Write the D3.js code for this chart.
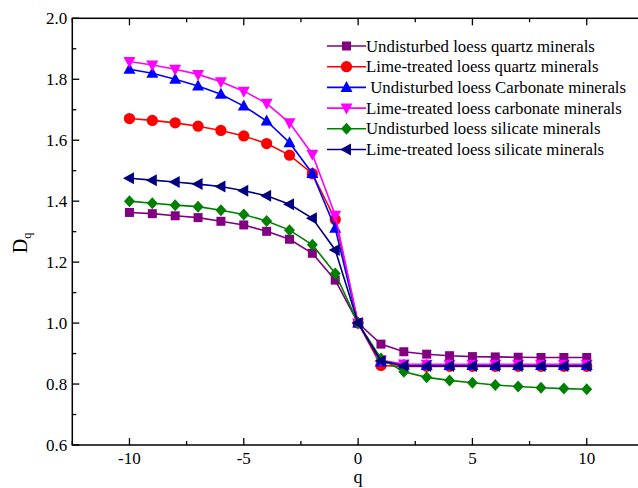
<!DOCTYPE html>
<html>
<head>
<meta charset="utf-8">
<script src="https://cdn.jsdelivr.net/npm/d3@7"></script>
<style>
  body { margin: 0; background: #fff; }
  svg { display: block; font-family: "Liberation Serif", "Times New Roman", serif; }
</style>
</head>
<body>
<div id="chart"></div>
<script>
// q values along the x axis
const qValues = [-10, -9, -8, -7, -6, -5, -4, -3, -2, -1, 0, 1, 2, 3, 4, 5, 6, 7, 8, 9, 10];

// D_q for each sample
const undisturbedQuartz   = [1.363, 1.359, 1.352, 1.346, 1.334, 1.322, 1.301, 1.275, 1.229, 1.141, 1.0, 0.931, 0.906, 0.898, 0.893, 0.890, 0.889, 0.888, 0.887, 0.887, 0.887];
const limeQuartz          = [1.671, 1.665, 1.657, 1.646, 1.632, 1.614, 1.589, 1.551, 1.490, 1.340, 1.0, 0.861, 0.858, 0.858, 0.858, 0.858, 0.858, 0.858, 0.858, 0.858, 0.858];
const undisturbedCarbon   = [1.833, 1.820, 1.800, 1.778, 1.751, 1.712, 1.663, 1.592, 1.491, 1.311, 1.0, 0.872, 0.862, 0.861, 0.861, 0.861, 0.861, 0.861, 0.861, 0.861, 0.861];
const limeCarbon          = [1.858, 1.847, 1.833, 1.816, 1.792, 1.761, 1.721, 1.657, 1.554, 1.354, 1.0, 0.878, 0.866, 0.865, 0.865, 0.865, 0.865, 0.865, 0.865, 0.865, 0.865];
const undisturbedSilicate = [1.400, 1.393, 1.387, 1.382, 1.370, 1.356, 1.335, 1.305, 1.257, 1.163, 1.0, 0.884, 0.840, 0.822, 0.812, 0.804, 0.797, 0.792, 0.788, 0.785, 0.783];
const limeSilicate        = [1.475, 1.469, 1.463, 1.456, 1.448, 1.434, 1.418, 1.390, 1.344, 1.240, 1.0, 0.876, 0.860, 0.859, 0.859, 0.859, 0.859, 0.859, 0.859, 0.859, 0.859];

const seriesNames = [
    "Undisturbed loess quartz minerals",
    "Lime-treated loess quartz minerals",
    " Undisturbed loess Carbonate minerals",
    "Lime-treated loess carbonate minerals",
    "Undisturbed loess silicate minerals",
    "Lime-treated loess silicate minerals"
];
const seriesValues = [undisturbedQuartz, limeQuartz, undisturbedCarbon, limeCarbon, undisturbedSilicate, limeSilicate];
const seriesColors = ["#800080", "#ff0000", "#0000ff", "#ff00ff", "#008000", "#000080"];
const seriesMarkers = ["square", "circle", "up", "down", "diamond", "left"];

const xTicks = [-10, -5, 0, 5, 10];
const yTicks = [0.6, 0.8, 1.0, 1.2, 1.4, 1.6, 1.8, 2.0];

const width = 638, height = 488;
const plotLeft = 72.3, plotTop = 18.3, plotBottom = 445;

const svg = d3.select("#chart").append("svg")
    .attr("width", width)
    .attr("height", height);

const x = d3.scaleLinear().domain([-12.5, 12.5]).range([plotLeft, 643.9]);
const y = d3.scaleLinear().domain([0.6, 2.0]).range([plotBottom, plotTop]);

// frame
svg.append("rect")
    .attr("x", plotLeft).attr("y", plotTop)
    .attr("width", x(12.5) - plotLeft).attr("height", plotBottom - plotTop)
    .attr("fill", "none").attr("stroke", "#000").attr("stroke-width", 1.5);

// ticks (inward) on all four sides
const xMinor = d3.range(-12.5, 12.6, 2.5).filter(v => v % 5 !== 0);
const yMinor = d3.range(0.7, 2.0, 0.2);

function tickLines(sel, data, x1, y1, x2, y2) {
    sel.selectAll(null).data(data).enter().append("line")
        .attr("x1", x1).attr("y1", y1).attr("x2", x2).attr("y2", y2)
        .attr("stroke", "#000").attr("stroke-width", 1.3);
}
const ticks = svg.append("g");
tickLines(ticks, xTicks, d => x(d), plotBottom, d => x(d), plotBottom - 7);
tickLines(ticks, xMinor, d => x(d), plotBottom, d => x(d), plotBottom - 4);
tickLines(ticks, xTicks, d => x(d), plotTop, d => x(d), plotTop + 7);
tickLines(ticks, xMinor, d => x(d), plotTop, d => x(d), plotTop + 4);
tickLines(ticks, yTicks, plotLeft, d => y(d), plotLeft + 7, d => y(d));
tickLines(ticks, yMinor, plotLeft, d => y(d), plotLeft + 4, d => y(d));

svg.append("g").selectAll("text").data(xTicks).enter().append("text")
    .attr("x", d => x(d)).attr("y", plotBottom + 19)
    .attr("text-anchor", "middle")
    .attr("font-size", 17)
    .text(d => String(d));

svg.append("g").selectAll("text").data(yTicks).enter().append("text")
    .attr("x", plotLeft - 5).attr("y", d => y(d) + 6)
    .attr("text-anchor", "end")
    .attr("font-size", 17)
    .text(d => d3.format(".1f")(d));

// axis titles
svg.append("text")
    .attr("x", x(0)).attr("y", 483)
    .attr("text-anchor", "middle")
    .attr("font-size", 18)
    .text("q");

const yTitle = svg.append("text")
    .attr("transform", "translate(27," + 243 + ") rotate(-90)")
    .attr("text-anchor", "middle")
    .attr("font-size", 20);
yTitle.append("tspan").text("D");
yTitle.append("tspan").attr("font-size", 12).attr("dy", 4).text("q");

// marker shapes
function markerPath(type) {
    switch (type) {
        case "square":  return "M-4.5,-4.5H4.5V4.5H-4.5Z";
        case "circle":  return d3.symbol(d3.symbolCircle, 100)();
        case "up":      return "M0,-6.5L6,4.5H-6Z";
        case "down":    return "M0,6.5L6,-4.5H-6Z";
        case "diamond": return "M0,-6L5.5,0L0,6L-5.5,0Z";
        case "left":    return "M-6.5,0L4.5,-6V6Z";
    }
}

const line = d3.line()
    .x((d, i) => x(qValues[i]))
    .y(d => y(d));

const plot = svg.append("g");
seriesValues.forEach(function (vals, s) {
    plot.append("path")
        .attr("d", line(vals))
        .attr("fill", "none")
        .attr("stroke", seriesColors[s])
        .attr("stroke-width", 1.6);
    plot.selectAll(null).data(vals).enter().append("path")
        .attr("d", markerPath(seriesMarkers[s]))
        .attr("transform", (d, i) => "translate(" + x(qValues[i]) + "," + y(d) + ")")
        .attr("fill", seriesColors[s]);
});

// legend
const legend = svg.append("g");
seriesNames.forEach(function (name, s) {
    const ly = 46 + s * 20.7;
    legend.append("line")
        .attr("x1", 327).attr("x2", 366).attr("y1", ly).attr("y2", ly)
        .attr("stroke", seriesColors[s]).attr("stroke-width", 1.6);
    legend.append("path")
        .attr("d", markerPath(seriesMarkers[s]))
        .attr("transform", "translate(346.5," + ly + ")")
        .attr("fill", seriesColors[s]);
    legend.append("text")
        .attr("x", 366).attr("y", ly + 5.5)
        .attr("font-size", 16.8)
        .style("white-space", "pre")
        .text(name);
});
</script>
</body>
</html>
